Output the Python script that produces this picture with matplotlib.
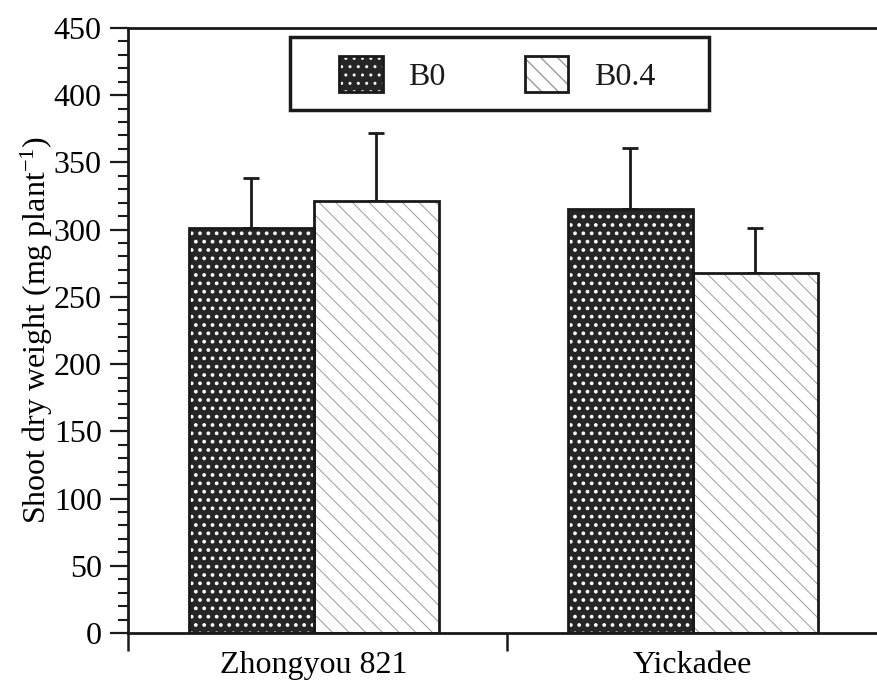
import matplotlib
matplotlib.use('Agg')
import matplotlib.pyplot as plt
from matplotlib.patches import Rectangle
from matplotlib.legend_handler import HandlerTuple
from matplotlib.ticker import MultipleLocator, FixedLocator, NullFormatter

# data
cultivars = ['Zhongyou 821', 'Yickadee']
treatments = ['B0', 'B0.4']
b0_mean = [301, 315]
b0_err = [37, 46]
b04_mean = [321, 268]
b04_err = [51, 33]

ink = '#1a1a1a'
plt.rcParams['font.family'] = ['Liberation Serif', 'DejaVu Serif']
plt.rcParams['mathtext.fontset'] = 'custom'
plt.rcParams['mathtext.rm'] = 'Liberation Serif'
plt.rcParams['mathtext.default'] = 'regular'
plt.rcParams['text.color'] = ink

fig = plt.figure(figsize=(8.77, 6.83), dpi=100)
ax = fig.add_axes([0.146, 0.0732, 0.864, 0.886])

centers = [0.49, 1.49]
w = 0.33
x0 = [c - w / 2 for c in centers]
x1 = [c + w / 2 for c in centers]

# B0: dark fill with white dots, B0.4: white with light diagonal stipple
with plt.rc_context({'hatch.linewidth': 1.5}):
    f0 = ax.bar(x0, b0_mean, w, color='#262626', edgecolor='white', hatch='..', linewidth=0, zorder=2)
with plt.rc_context({'hatch.linewidth': 0.7}):
    f1 = ax.bar(x1, b04_mean, w, color='white', edgecolor='#9a9a9a', hatch='\\\\', linewidth=0, zorder=2)
e0 = ax.bar(x0, b0_mean, w, fill=False, edgecolor=ink, linewidth=2, zorder=3)
e1 = ax.bar(x1, b04_mean, w, fill=False, edgecolor=ink, linewidth=2, zorder=3)

ax.errorbar(x0, b0_mean, yerr=[[0, 0], b0_err], fmt='none', ecolor=ink,
            elinewidth=2, capsize=5.5, capthick=2, zorder=1)
ax.errorbar(x1, b04_mean, yerr=[[0, 0], b04_err], fmt='none', ecolor=ink,
            elinewidth=2, capsize=5.5, capthick=2, zorder=1)

ax.set_ylim(0, 450)
ax.set_xlim(0, 2)
ax.yaxis.set_major_locator(MultipleLocator(50))
ax.yaxis.set_minor_locator(MultipleLocator(10))
ax.tick_params(axis='y', which='major', length=13, width=1.6, labelsize=23, pad=6, color=ink)
ax.tick_params(axis='y', which='minor', length=7, width=1.5, color=ink)

ax.xaxis.set_major_locator(FixedLocator([0, 1, 2]))
ax.xaxis.set_major_formatter(NullFormatter())
ax.xaxis.set_minor_locator(FixedLocator(centers))
ax.set_xticklabels(cultivars, minor=True)
ax.tick_params(axis='x', which='major', length=13, width=1.8, color=ink)
ax.tick_params(axis='x', which='minor', length=0, labelsize=23, pad=13)

for s in ['left', 'bottom', 'top']:
    ax.spines[s].set_linewidth(2)
    ax.spines[s].set_color(ink)
ax.spines['right'].set_visible(False)

ax.set_ylabel('Shoot dry weight (mg plant$^{-1}$)', fontsize=23)
ax.yaxis.set_label_coords(-0.096, 0.5)

# legend box drawn as a plain frame, entries placed inside it
ax.add_patch(Rectangle((0.214, 0.864), 0.553, 0.121, transform=ax.transAxes, fill=False,
                       edgecolor=ink, linewidth=2.5, zorder=4))
leg = ax.legend([(f0, e0), (f1, e1)], treatments, handler_map={tuple: HandlerTuple(ndivide=1)},
                ncol=2, loc='center left', bbox_to_anchor=(0.279, 0.924), borderaxespad=0,
                borderpad=0, fontsize=23, handlelength=1.35, handleheight=1.35, handletextpad=0.8,
                columnspacing=2.5, frameon=False)

fig.savefig('out.png', dpi=100)
